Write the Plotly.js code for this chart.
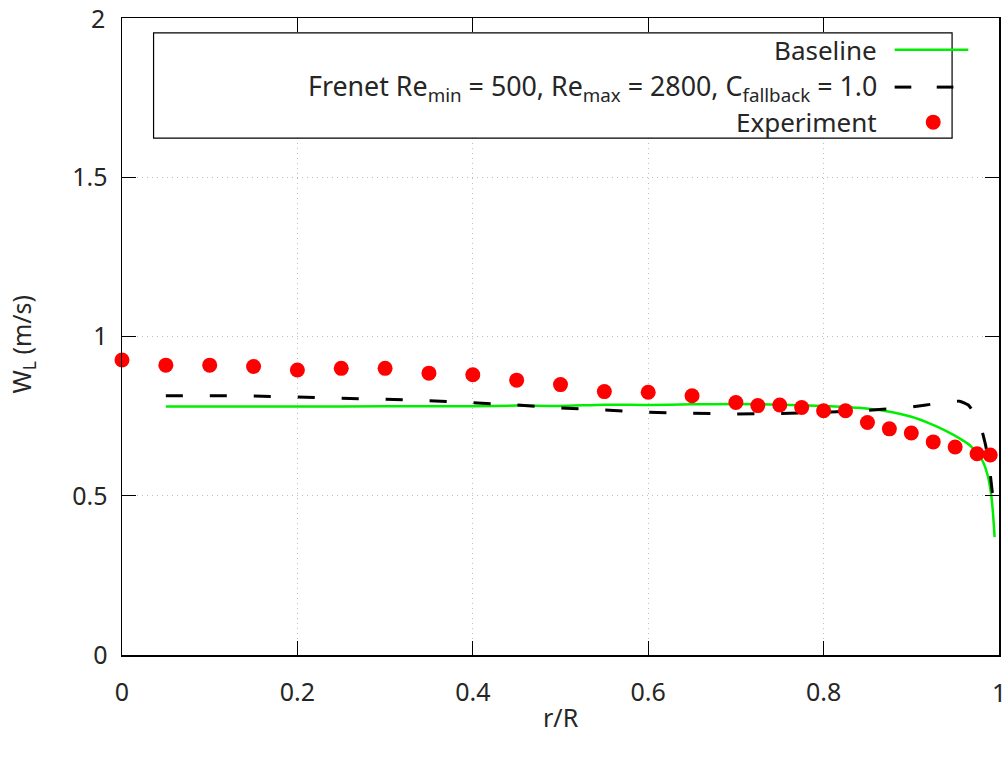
<!DOCTYPE html>
<html>
<head>
<meta charset="utf-8">
<script src="https://cdn.plot.ly/plotly-3.0.1.min.js"></script>
<style>html,body{margin:0;padding:0;background:#fff;}#chart{width:1004px;height:762px;}</style>
</head>
<body>
<div id="chart"></div>
<script>
// Experiment
const expX = [0, 0.05, 0.1, 0.15, 0.2, 0.25, 0.3, 0.35, 0.4, 0.45, 0.5, 0.55, 0.6, 0.65, 0.7, 0.725, 0.75, 0.775, 0.8, 0.825, 0.85, 0.875, 0.9, 0.925, 0.95, 0.975, 0.99];
const expY = [0.926, 0.910, 0.910, 0.906, 0.895, 0.900, 0.900, 0.885, 0.880, 0.863, 0.849, 0.827, 0.825, 0.814, 0.793, 0.783, 0.785, 0.777, 0.767, 0.767, 0.730, 0.710, 0.697, 0.669, 0.653, 0.632, 0.628];
// Baseline
const baseX = [0.05, 0.1, 0.2, 0.3, 0.4, 0.45, 0.5, 0.55, 0.6, 0.65, 0.7, 0.75, 0.8, 0.84, 0.87, 0.9, 0.92, 0.94, 0.955, 0.967, 0.975, 0.982, 0.987, 0.991, 0.993, 0.995];
const baseY = [0.780, 0.780, 0.780, 0.781, 0.781, 0.783, 0.782, 0.786, 0.785, 0.787, 0.788, 0.786, 0.782, 0.776, 0.766, 0.748, 0.728, 0.703, 0.680, 0.658, 0.635, 0.605, 0.565, 0.505, 0.450, 0.370];
// Frenet
const frenX = [0.05, 0.1, 0.15, 0.2, 0.25, 0.3, 0.35, 0.4, 0.45, 0.5, 0.55, 0.6, 0.65, 0.7, 0.75, 0.8, 0.85, 0.9, 0.93, 0.955, 0.965, 0.975, 0.98, 0.985, 0.989, 0.992, 0.995];
const frenY = [0.814, 0.814, 0.813, 0.810, 0.806, 0.803, 0.798, 0.792, 0.785, 0.776, 0.769, 0.762, 0.759, 0.757, 0.758, 0.762, 0.768, 0.779, 0.790, 0.797, 0.785, 0.745, 0.710, 0.655, 0.590, 0.520, 0.440];

const names = ["Baseline", "Frenet Re<sub>min</sub> = 500, Re<sub>max</sub> = 2800, C<sub>fallback</sub> = 1.0", "Experiment"];
const xTicks = [0, 0.2, 0.4, 0.6, 0.8];
const xTickText = ["0", "0.2", "0.4", "0.6", "0.8"];
const yTicks = [0, 0.5, 1, 1.5];
const yTickText = ["0", "0.5", "1", "1.5"];

const FONT = "Noto Sans, Open Sans, sans-serif";
const TXT = "#262626";
const GREEN = "#00ee00", BLACK = "#000000", RED = "#ff0000";

const traces = [
  {x: baseX, y: baseY, mode: "lines", line: {color: GREEN, width: 2.5, shape: "spline", smoothing: 0.6}, name: names[0], showlegend: false},
  {x: frenX, y: frenY, mode: "lines", line: {color: BLACK, width: 3, dash: "17px,27px", shape: "spline", smoothing: 0.4}, name: names[1], showlegend: false},
  {x: expX, y: expY, mode: "markers", marker: {color: RED, size: 15, symbol: "circle", line: {width: 0}}, name: names[2], showlegend: false, cliponaxis: false}
];

// legend rows (manual, gnuplot-style: right-aligned text, sample on right)
const rowY = [1.900, 1.783, 1.673];
const rowSize = [26, 26.8, 26];
const annotations = names.map((t, i) => ({
  x: 0.863, y: rowY[i], xref: "x", yref: "y", text: t, showarrow: false,
  xanchor: "right", yanchor: "middle", font: {family: FONT, size: rowSize[i], color: TXT}
}));
// end tick labels drawn as text (Plotly drops labels on the edge)
annotations.push({x: 1, y: 0, xref: "x", yref: "paper", yshift: -37, text: "1", showarrow: false, xanchor: "center", yanchor: "middle", font: {family: FONT, size: 25, color: TXT}});
annotations.push({x: 0, y: 2, xref: "paper", yref: "y", xshift: -15, text: "2", showarrow: false, xanchor: "right", yanchor: "middle", font: {family: FONT, size: 25, color: TXT}});
annotations.push({x: 0.5, y: 0, xref: "paper", yref: "paper", yshift: -62, text: "r/R", showarrow: false, xanchor: "center", yanchor: "middle", font: {family: FONT, size: 25, color: TXT}});
annotations.push({x: 0, y: 0.5, xref: "paper", yref: "paper", xshift: -100, yshift: -8, text: "W<sub>L</sub> (m/s)", showarrow: false, textangle: -90, xanchor: "center", yanchor: "middle", font: {family: FONT, size: 25, color: TXT}});

const shapes = [
  {type: "rect", xref: "x", yref: "y", x0: 0.036, x1: 0.9465, y0: 1.623, y1: 1.953, line: {color: BLACK, width: 1.2}, fillcolor: "rgba(255,255,255,1)", layer: "above"},
  {type: "line", xref: "x", yref: "y", x0: 0.881, x1: 0.965, y0: rowY[0], y1: rowY[0], line: {color: GREEN, width: 2.5}},
  {type: "line", xref: "x", yref: "y", x0: 0.881, x1: 0.900, y0: rowY[1], y1: rowY[1], line: {color: BLACK, width: 3}},
  {type: "line", xref: "x", yref: "y", x0: 0.929, x1: 0.948, y0: rowY[1], y1: rowY[1], line: {color: BLACK, width: 3}},
  {type: "circle", xref: "x", yref: "y", xsizemode: "pixel", ysizemode: "pixel", xanchor: 0.925, yanchor: rowY[2], x0: -7.5, x1: 7.5, y0: -7.5, y1: 7.5, fillcolor: RED, line: {width: 0}}
];

const axisCommon = {
  showline: true, linecolor: BLACK, linewidth: 1.5, mirror: "ticks",
  ticks: "inside", ticklen: 14, tickwidth: 1.2, tickcolor: BLACK,
  showgrid: true, gridcolor: "#bdbdbd", griddash: "1px,4px", gridwidth: 1,
  zeroline: false, tickfont: {family: FONT, size: 25, color: TXT}
};

const layout = {
  width: 1004, height: 762,
  margin: {l: 122, r: 5, t: 18, b: 107},
  paper_bgcolor: "#fff", plot_bgcolor: "#fff",
  showlegend: false,
  xaxis: Object.assign({}, axisCommon, {range: [0, 1], tickvals: xTicks.concat([1]), ticktext: xTickText.concat([""]), ticklabelstandoff: 14}),
  yaxis: Object.assign({}, axisCommon, {range: [0, 2], tickvals: yTicks.concat([2]), ticktext: yTickText.concat([""]), ticklabelstandoff: 8}),
  annotations: annotations,
  shapes: shapes
};

Plotly.newPlot("chart", traces, layout, {displayModeBar: false, staticPlot: true});
</script>
</body>
</html>
